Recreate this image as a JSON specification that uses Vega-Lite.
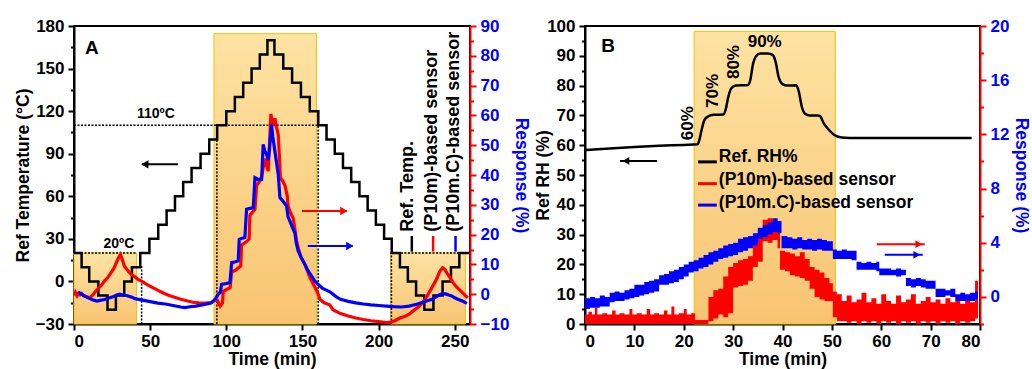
{
  "$schema": "https://vega.github.io/schema/vega-lite/v6.json",
  "padding": {"left": 13, "top": 16, "right": 2, "bottom": 0},
  "bounds": "flush",
  "spacing": 115,
  "config": {
    "font": "Liberation Sans",
    "view": {"stroke": "black", "strokeWidth": 2},
    "axis": {
      "labelFont": "Liberation Sans", "labelFontSize": 17, "labelFontWeight": "bold", "labelColor": "black",
      "titleFont": "Liberation Sans", "titleFontSize": 17.5, "titleFontWeight": "bold", "titleColor": "black",
      "grid": false, "domainColor": "black", "domainWidth": 2, "tickColor": "black", "tickWidth": 2,
      "labelPadding": 4, "titlePadding": 3
    },
    "axisX": {"labelPadding": 3, "titlePadding": 1.5},
    "text": {"font": "Liberation Sans", "fontWeight": "bold"}
  },
  "datasets": {
    "tempA": [{"t":0,"T":20},{"t":5,"T":10},{"t":10,"T":0},{"t":16,"T":-10},{"t":22,"T":-20},{"t":27.5,"T":-10},{"t":33,"T":0},{"t":38,"T":10},{"t":43.5,"T":20},{"t":49.5,"T":30},{"t":55.3,"T":40},{"t":60.8,"T":50},{"t":66.3,"T":60},{"t":71.7,"T":70},{"t":77.2,"T":80},{"t":83.1,"T":90},{"t":88.8,"T":100},{"t":94,"T":110},{"t":100,"T":120},{"t":105.6,"T":130},{"t":111.1,"T":140},{"t":116.6,"T":150},{"t":122,"T":160},{"t":127,"T":170},{"t":131.6,"T":160},{"t":137.4,"T":150},{"t":143.2,"T":140},{"t":149,"T":130},{"t":154.8,"T":120},{"t":160.4,"T":110},{"t":165.8,"T":100},{"t":171.2,"T":90},{"t":176.6,"T":80},{"t":182,"T":70},{"t":187.4,"T":60},{"t":192.8,"T":50},{"t":198.2,"T":40},{"t":203.6,"T":30},{"t":208.6,"T":20},{"t":214,"T":10},{"t":219.2,"T":0},{"t":224.6,"T":-10},{"t":230,"T":-20},{"t":236,"T":-10},{"t":242,"T":0},{"t":247.5,"T":10},{"t":253,"T":20},{"t":259.8,"T":20}],
    "redA": [{"t":0.5,"R":-0.5},{"t":1,"R":0.5},{"t":2,"R":-0.5},{"t":3,"R":0.3},{"t":4,"R":-0.2},{"t":5,"R":0.2},{"t":6,"R":-0.5},{"t":8,"R":-0.8},{"t":10,"R":-1.2},{"t":12,"R":-0.5},{"t":14,"R":0.8},{"t":16,"R":2.0},{"t":18,"R":3.0},{"t":20,"R":4.4},{"t":22,"R":5.5},{"t":24,"R":7.0},{"t":26,"R":8.5},{"t":28,"R":10.8},{"t":29.5,"R":12.5},{"t":30.5,"R":13.3},{"t":31.5,"R":12.0},{"t":33,"R":9.5},{"t":34.5,"R":8.5},{"t":36,"R":7.5},{"t":38,"R":6.5},{"t":40,"R":5.8},{"t":42,"R":5.0},{"t":45,"R":4.2},{"t":48,"R":3.2},{"t":51,"R":2.4},{"t":54,"R":1.6},{"t":57,"R":0.8},{"t":60,"R":0.1},{"t":63,"R":-0.5},{"t":66,"R":-1.0},{"t":70,"R":-1.7},{"t":74,"R":-2.2},{"t":78,"R":-2.7},{"t":82,"R":-2.9},{"t":86,"R":-3.0},{"t":90,"R":-2.8},{"t":92,"R":-2.2},{"t":93.5,"R":-1.5},{"t":94.5,"R":-2.5},{"t":96,"R":-4.0},{"t":97.5,"R":-3.0},{"t":98,"R":1.0},{"t":101,"R":1.8},{"t":102.5,"R":2.2},{"t":103.5,"R":7.5},{"t":106,"R":8.0},{"t":107.8,"R":8.8},{"t":109.5,"R":9.5},{"t":110,"R":16.5},{"t":113,"R":17.5},{"t":115,"R":18.5},{"t":115.5,"R":26.5},{"t":118.8,"R":28.5},{"t":119.9,"R":36.5},{"t":122,"R":38},{"t":123.2,"R":39.5},{"t":125.3,"R":45.5},{"t":126.5,"R":43},{"t":127.5,"R":41.3},{"t":128.5,"R":52},{"t":129.3,"R":60.5},{"t":130,"R":58},{"t":130.8,"R":56.5},{"t":131.9,"R":59},{"t":133,"R":56},{"t":134.1,"R":53.5},{"t":135,"R":45},{"t":135.5,"R":39},{"t":137,"R":38},{"t":138.5,"R":36.5},{"t":140,"R":33},{"t":140.6,"R":29.5},{"t":142,"R":27.5},{"t":143.9,"R":25.5},{"t":145,"R":22},{"t":146.1,"R":18},{"t":147.5,"R":15},{"t":149,"R":12.5},{"t":151.6,"R":10},{"t":153.5,"R":7.5},{"t":155,"R":5.5},{"t":157,"R":3.5},{"t":158.5,"R":2},{"t":160,"R":0.5},{"t":161.5,"R":-1.7},{"t":164,"R":-2.8},{"t":168,"R":-3.6},{"t":170,"R":-5.2},{"t":175,"R":-6.5},{"t":180,"R":-7.3},{"t":185,"R":-8},{"t":190,"R":-8.5},{"t":195,"R":-8.9},{"t":200,"R":-9.2},{"t":205,"R":-9.5},{"t":208,"R":-9.4},{"t":211,"R":-8.8},{"t":214,"R":-8.0},{"t":217,"R":-7.5},{"t":220,"R":-6.7},{"t":223,"R":-5.5},{"t":226,"R":-4.3},{"t":229,"R":-2.8},{"t":232,"R":-0.5},{"t":235,"R":2.2},{"t":238,"R":5},{"t":240,"R":7.5},{"t":242,"R":8.9},{"t":243.5,"R":8.3},{"t":245,"R":7.0},{"t":247,"R":5.5},{"t":249,"R":3.8},{"t":251,"R":2.5},{"t":253,"R":1.5},{"t":255,"R":0.5},{"t":257,"R":-0.5},{"t":258.5,"R":-1.2}],
    "blueA": [{"t":3,"R":0.8},{"t":4,"R":0.2},{"t":5,"R":0},{"t":7,"R":-0.6},{"t":10,"R":-1.4},{"t":13,"R":-2.0},{"t":15,"R":-2.3},{"t":18,"R":-2.0},{"t":20,"R":-1.8},{"t":23,"R":-1.3},{"t":26,"R":-0.8},{"t":28,"R":-0.3},{"t":30,"R":0.0},{"t":32,"R":-0.2},{"t":35,"R":-0.5},{"t":38,"R":-1.0},{"t":40,"R":-1.5},{"t":45,"R":-2.0},{"t":50,"R":-2.5},{"t":55,"R":-3.0},{"t":60,"R":-3.3},{"t":65,"R":-3.8},{"t":70,"R":-4.3},{"t":73,"R":-4.5},{"t":76,"R":-4.2},{"t":80,"R":-4.0},{"t":85,"R":-3.5},{"t":88,"R":-3.2},{"t":90,"R":-3.0},{"t":91.4,"R":-2.3},{"t":93,"R":-1.5},{"t":94.7,"R":0},{"t":96,"R":0.5},{"t":96.9,"R":3.3},{"t":100,"R":3.6},{"t":102.4,"R":3.9},{"t":103.5,"R":10.6},{"t":106,"R":10.9},{"t":107.8,"R":11.2},{"t":108.5,"R":18.4},{"t":110,"R":18.7},{"t":112.2,"R":19.0},{"t":113.3,"R":28.5},{"t":115.5,"R":28.8},{"t":117.7,"R":29},{"t":118.8,"R":39.1},{"t":121,"R":38.5},{"t":123.2,"R":38.5},{"t":124.2,"R":50.3},{"t":125.3,"R":48},{"t":126.4,"R":47},{"t":127.5,"R":45},{"t":128.2,"R":48},{"t":129.7,"R":57},{"t":130.5,"R":53},{"t":131.9,"R":48},{"t":133,"R":44},{"t":134.1,"R":40.2},{"t":135.2,"R":32.4},{"t":137.5,"R":31},{"t":139.6,"R":29.6},{"t":140.5,"R":26},{"t":141.7,"R":24.6},{"t":143.3,"R":22.5},{"t":145,"R":20.6},{"t":146,"R":17},{"t":147.2,"R":14.5},{"t":149,"R":12.5},{"t":151.6,"R":10},{"t":153.5,"R":8},{"t":156,"R":6.1},{"t":158,"R":4.5},{"t":160.3,"R":3.3},{"t":163,"R":2},{"t":166,"R":1.3},{"t":168,"R":0.8},{"t":172,"R":-0.8},{"t":175,"R":-1.7},{"t":180,"R":-2.4},{"t":185,"R":-2.9},{"t":190,"R":-3.3},{"t":195,"R":-3.6},{"t":200,"R":-3.8},{"t":205,"R":-4.0},{"t":210,"R":-4.2},{"t":215,"R":-4.3},{"t":220,"R":-4.0},{"t":225,"R":-3.4},{"t":230,"R":-2.5},{"t":235,"R":-1.7},{"t":238,"R":-0.8},{"t":240,"R":-0.2},{"t":242,"R":0.2},{"t":244,"R":0.1},{"t":246,"R":-0.3},{"t":248,"R":-0.6},{"t":250,"R":-1.2},{"t":252,"R":-1.7},{"t":255,"R":-2.3},{"t":258,"R":-3.1}],
    "boxA": [{"t":0,"t2":41.1,"T":-30,"T2":20},{"t":91.9,"t2":159.2,"T":-30,"T2":174.6},{"t":207.8,"t2":257,"T":-30,"T2":20}],
    "dotA": [{"t":0,"t2":160.3,"T":110,"T2":110},{"t":0,"t2":41.1,"T":20,"T2":20},{"t":207.8,"t2":257,"T":20,"T2":20},{"t":44.4,"t2":44.4,"T":-30,"T2":12},{"t":93.8,"t2":93.8,"T":-30,"T2":110},{"t":160.3,"t2":160.3,"T":-30,"T2":110},{"t":208.4,"t2":208.4,"T":-30,"T2":20}],
    "arrowA": [{"t":44.6,"t2":68.2,"T":82.5,"head":46.5,"dir":"left","series":"ref"},{"t":149.6,"t2":179.1,"T":49.6,"head":177.2,"dir":"right","series":"P10m"},{"t":153.5,"t2":183,"T":25,"head":181.1,"dir":"right","series":"P10m.C"}],
    "legDashA": [{"t":221.8,"T":21,"T2":32,"series":"ref"},{"t":235.8,"T":21,"T2":32,"series":"P10m"},{"t":250.5,"T":21,"T2":32,"series":"P10m.C"}],
    "legTextA": [{"t":219.5,"T":35,"label":"Ref. Temp."},{"t":234.9,"T":35,"label":"(P10m)-based sensor"},{"t":249.8,"T":35,"label":"(P10m.C)-based sensor"}],
    "rhB": [{"t":0,"RH":58.4},{"t":5,"RH":58.9},{"t":10,"RH":59.4},{"t":15,"RH":59.8},{"t":20,"RH":60.1},{"t":22.8,"RH":60.3},{"t":23.2,"RH":62},{"t":23.6,"RH":65},{"t":24.2,"RH":68.5},{"t":25,"RH":69.7},{"t":26,"RH":70.2},{"t":28,"RH":70.3},{"t":28.5,"RH":72},{"t":29,"RH":76},{"t":29.6,"RH":79},{"t":30.5,"RH":80},{"t":33,"RH":80.2},{"t":33.5,"RH":82},{"t":34,"RH":87},{"t":34.6,"RH":89.8},{"t":35.5,"RH":90.8},{"t":37,"RH":90.8},{"t":38,"RH":90.3},{"t":38.6,"RH":88},{"t":39.2,"RH":83},{"t":40,"RH":80.5},{"t":41,"RH":80},{"t":42.8,"RH":80.1},{"t":43.3,"RH":78},{"t":43.9,"RH":73},{"t":44.6,"RH":70.5},{"t":45.5,"RH":70},{"t":47,"RH":70},{"t":47.6,"RH":69.8},{"t":48.3,"RH":67.5},{"t":49.2,"RH":65.5},{"t":50.2,"RH":63.8},{"t":51,"RH":63},{"t":52,"RH":62.6},{"t":55,"RH":62.4},{"t":78.3,"RH":62.4}],
    "redB": [{"t":0,"R":-2,"R2":-1.3},{"t":0.7,"R":-2,"R2":-1.1},{"t":1.4,"R":-2,"R2":-1.3},{"t":2,"R":-2,"R2":-0.8},{"t":2.5,"R":-2,"R2":-1.3},{"t":3.5,"R":-2,"R2":-1.2},{"t":4.5,"R":-2,"R2":-1.3},{"t":5.5,"R":-2,"R2":-1.0},{"t":6.2,"R":-2,"R2":-1.3},{"t":7,"R":-2,"R2":-1.2},{"t":8,"R":-2,"R2":-1.3},{"t":9,"R":-2,"R2":-0.9},{"t":9.6,"R":-2,"R2":-1.3},{"t":10.5,"R":-2,"R2":-1.2},{"t":11.5,"R":-2,"R2":-1.3},{"t":12.5,"R":-2,"R2":-0.9},{"t":13.2,"R":-2,"R2":-1.3},{"t":14,"R":-2,"R2":-1.2},{"t":15,"R":-2,"R2":-1.3},{"t":16,"R":-2,"R2":-1.0},{"t":16.7,"R":-2,"R2":-1.3},{"t":17.5,"R":-2,"R2":-0.7},{"t":18.1,"R":-2,"R2":-1.3},{"t":19,"R":-2,"R2":-1.2},{"t":20,"R":-2,"R2":-0.9},{"t":20.6,"R":-2,"R2":-1.3},{"t":21.5,"R":-2,"R2":-1.2},{"t":22.3,"R":-2,"R2":-1.7},{"t":23.5,"R":-2,"R2":-1.7},{"t":25,"R":-1.8,"R2":0.0},{"t":26,"R":-1.6,"R2":0.5},{"t":27,"R":-1.3,"R2":0.6},{"t":28,"R":-1.5,"R2":1.5},{"t":29,"R":-1.2,"R2":2.2},{"t":30,"R":0.7,"R2":2.5},{"t":31,"R":0.8,"R2":2.7},{"t":32,"R":0.9,"R2":2.8},{"t":33,"R":1.2,"R2":3.0},{"t":34,"R":2.2,"R2":4.3},{"t":35,"R":2.6,"R2":4.9},{"t":36,"R":4.1,"R2":5.7},{"t":37,"R":4.0,"R2":5.8},{"t":38,"R":4.2,"R2":5.7},{"t":39,"R":3.6,"R2":5.5},{"t":39.5,"R":2.0,"R2":3.4},{"t":40.5,"R":1.9,"R2":3.3},{"t":41.5,"R":1.6,"R2":3.2},{"t":42.5,"R":1.5,"R2":3.0},{"t":43.5,"R":1.4,"R2":3.3},{"t":44.5,"R":1.2,"R2":2.8},{"t":45.5,"R":0.6,"R2":2.2},{"t":46.5,"R":0.0,"R2":2.0},{"t":47.5,"R":-0.2,"R2":1.8},{"t":48.5,"R":-0.3,"R2":1.4},{"t":49.5,"R":-0.3,"R2":1.0},{"t":50.2,"R":-1.5,"R2":0.4},{"t":51,"R":-1.8,"R2":0.2},{"t":52,"R":-1.8,"R2":-0.3},{"t":53,"R":-1.9,"R2":0.1},{"t":54,"R":-1.8,"R2":-0.4},{"t":55,"R":-2.0,"R2":-0.2},{"t":56,"R":-1.8,"R2":0.3},{"t":57,"R":-1.9,"R2":-0.4},{"t":58,"R":-1.8,"R2":-0.1},{"t":59,"R":-2.0,"R2":-0.5},{"t":60,"R":-1.8,"R2":0.2},{"t":61,"R":-1.9,"R2":-0.3},{"t":62,"R":-1.8,"R2":-0.5},{"t":63,"R":-2.0,"R2":0.1},{"t":64,"R":-1.8,"R2":-0.4},{"t":65,"R":-1.9,"R2":-0.2},{"t":66,"R":-1.8,"R2":0.2},{"t":67,"R":-2.0,"R2":-0.5},{"t":68,"R":-1.8,"R2":-0.3},{"t":69,"R":-1.9,"R2":0.0},{"t":70,"R":-1.8,"R2":-0.4},{"t":71,"R":-2.0,"R2":-0.2},{"t":72,"R":-1.8,"R2":-0.5},{"t":73,"R":-1.9,"R2":-0.1},{"t":74,"R":-1.8,"R2":-0.4},{"t":75,"R":-2.0,"R2":-0.3},{"t":76,"R":-1.8,"R2":-0.5},{"t":77,"R":-1.9,"R2":-0.2},{"t":78,"R":-1.8,"R2":-0.4},{"t":79,"R":-1.6,"R2":1.2},{"t":79.6,"R":-1.6,"R2":1.2}],
    "blueB": [{"t":0,"R":-0.9,"R2":-0.1},{"t":1,"R":-0.8,"R2":0.0},{"t":2,"R":-0.8,"R2":-0.1},{"t":3,"R":-0.7,"R2":0.1},{"t":4,"R":-0.7,"R2":0.0},{"t":5,"R":-0.4,"R2":0.3},{"t":6,"R":-0.3,"R2":0.4},{"t":7,"R":-0.3,"R2":0.3},{"t":8,"R":-0.2,"R2":0.5},{"t":9,"R":-0.1,"R2":0.6},{"t":10,"R":0.0,"R2":0.9},{"t":11,"R":0.1,"R2":0.9},{"t":12,"R":0.2,"R2":1.1},{"t":13,"R":0.3,"R2":1.2},{"t":14,"R":0.4,"R2":1.3},{"t":15,"R":0.9,"R2":1.6},{"t":16,"R":0.9,"R2":1.7},{"t":17,"R":1.0,"R2":1.9},{"t":18,"R":1.1,"R2":2.0},{"t":19,"R":1.3,"R2":2.2},{"t":20,"R":1.5,"R2":2.4},{"t":21,"R":1.8,"R2":2.6},{"t":22,"R":1.9,"R2":2.7},{"t":23,"R":2.1,"R2":2.9},{"t":24,"R":2.2,"R2":3.1},{"t":25,"R":2.4,"R2":3.3},{"t":26,"R":2.6,"R2":3.4},{"t":27,"R":2.8,"R2":3.6},{"t":28,"R":2.9,"R2":3.8},{"t":29,"R":3.0,"R2":3.9},{"t":30,"R":3.1,"R2":4.0},{"t":31,"R":3.3,"R2":4.3},{"t":32,"R":3.4,"R2":4.4},{"t":33,"R":3.6,"R2":4.5},{"t":34,"R":3.8,"R2":4.7},{"t":35,"R":4.3,"R2":5.1},{"t":36,"R":4.4,"R2":5.3},{"t":37,"R":4.6,"R2":5.5},{"t":38,"R":4.8,"R2":5.8},{"t":39,"R":4.7,"R2":5.6},{"t":39.8,"R":3.6,"R2":4.5},{"t":41,"R":3.6,"R2":4.4},{"t":42,"R":3.5,"R2":4.3},{"t":43,"R":3.6,"R2":4.4},{"t":44,"R":3.5,"R2":4.2},{"t":45,"R":3.5,"R2":4.3},{"t":46,"R":3.4,"R2":4.2},{"t":47,"R":3.5,"R2":4.3},{"t":48,"R":3.4,"R2":4.2},{"t":49,"R":3.4,"R2":4.1},{"t":50.2,"R":2.8,"R2":3.5},{"t":51,"R":2.8,"R2":3.4},{"t":52,"R":2.8,"R2":3.5},{"t":53,"R":2.8,"R2":3.4},{"t":54,"R":2.7,"R2":3.4},{"t":55,"R":2.0,"R2":2.6},{"t":56,"R":2.0,"R2":2.5},{"t":57,"R":2.0,"R2":2.6},{"t":58,"R":2.0,"R2":2.5},{"t":59,"R":1.9,"R2":2.6},{"t":59.6,"R":1.6,"R2":2.1},{"t":61,"R":1.6,"R2":2.1},{"t":62,"R":1.6,"R2":2.0},{"t":63,"R":1.5,"R2":2.1},{"t":64,"R":1.6,"R2":2.0},{"t":65,"R":0.8,"R2":1.4},{"t":66,"R":0.7,"R2":1.3},{"t":67,"R":0.8,"R2":1.4},{"t":68,"R":0.7,"R2":1.3},{"t":69,"R":0.6,"R2":1.2},{"t":70,"R":0.6,"R2":1.2},{"t":71,"R":0.0,"R2":0.6},{"t":72,"R":0.0,"R2":0.6},{"t":73,"R":0.1,"R2":0.5},{"t":74,"R":0.0,"R2":0.6},{"t":75,"R":-0.3,"R2":0.2},{"t":76,"R":-0.3,"R2":0.3},{"t":77,"R":-0.3,"R2":0.2},{"t":78,"R":-0.3,"R2":0.3},{"t":79,"R":-0.2,"R2":0.4},{"t":79.6,"R":-0.2,"R2":0.4}],
    "boxB": [{"t":22.1,"t2":50.7,"RH":0,"RH2":98.2}],
    "arrowB": [{"t":7.1,"t2":14.6,"RH":54.7,"head":8.3,"dir":"left","series":"ref"},{"t":59.1,"t2":68.8,"RH":26.8,"head":67.6,"dir":"right","series":"P10m"},{"t":60.7,"t2":68.4,"RH":23.2,"head":67.2,"dir":"right","series":"P10m.C"}],
    "legDashB": [{"t":22.9,"t2":26.7,"RH":54.4,"series":"ref"},{"t":22.9,"t2":26.7,"RH":47.1,"series":"P10m"},{"t":22.9,"t2":26.7,"RH":39.9,"series":"P10m.C"}],
    "legTextB": [{"t":27.1,"RH":56,"label":"Ref. RH%"},{"t":27.1,"RH":48.2,"label":"(P10m)-based sensor"},{"t":27.1,"RH":40.6,"label":"(P10m.C)-based sensor"}],
    "rotB": [{"t":20.9,"RH":67.4,"label":"60%"},{"t":25.9,"RH":78.2,"label":"70%"},{"t":30.2,"RH":87.9,"label":"80%"}]
  },
  "hconcat": [
    {
      "width": 396, "height": 298,
      "resolve": {"scale": {"y": "independent"}, "axis": {"y": "independent"}},
      "layer": [
        {
          "encoding": {
            "x": {"field": "t", "type": "quantitative", "scale": {"domain": [0, 260], "nice": false},
              "axis": {"title": "Time (min)", "values": [0,25,50,75,100,125,150,175,200,225,250],
                "labelExpr": "datum.value % 50 === 0 ? datum.label : ''",
                "tickSize": {"condition": {"test": "datum.value % 50 === 0", "value": 6}, "value": 3.5}}},
            "y": {"field": "T", "type": "quantitative", "scale": {"domain": [-30, 180], "nice": false},
              "axis": {"title": "Ref Temperature (°C)", "orient": "left", "values": [-30,-15,0,15,30,45,60,75,90,105,120,135,150,165,180],
                "labelExpr": "datum.value % 30 === 0 ? datum.label : ''",
                "tickSize": {"condition": {"test": "datum.value % 30 === 0", "value": 6}, "value": 3.5}}}
          },
          "layer": [
            {"data": {"name": "boxA"}, "mark": {"type": "rect", "stroke": "#F2C200", "strokeWidth": 1,
              "fill": {"gradient": "linear", "x1": 0, "y1": 0, "x2": 0, "y2": 1, "stops": [{"offset": 0, "color": "#FEE3A3"}, {"offset": 1, "color": "#F8C472"}]}},
              "encoding": {"x2": {"field": "t2"}, "y2": {"field": "T2"}}},
            {"data": {"name": "dotA"}, "mark": {"type": "rule", "color": "black", "strokeWidth": 1.5, "strokeDash": [2, 1.5]},
              "encoding": {"x2": {"field": "t2"}, "y2": {"field": "T2"}}},
            {"data": {"name": "tempA"}, "mark": {"type": "line", "color": "black", "strokeWidth": 2.5, "interpolate": "step-after"}},
            {"data": {"name": "arrowA"}, "mark": {"type": "rule", "strokeWidth": 2},
              "encoding": {"x2": {"field": "t2"}, "color": {"field": "series", "type": "nominal", "scale": {"domain": ["ref", "P10m", "P10m.C"], "range": ["black", "#FF0000", "#0000FF"]}, "legend": null}}},
            {"data": {"name": "arrowA"}, "mark": {"type": "point", "filled": true, "opacity": 1, "size": 70},
              "encoding": {"x": {"field": "head", "type": "quantitative"},
                "shape": {"field": "dir", "type": "nominal", "scale": {"domain": ["left", "right"], "range": ["triangle-left", "triangle-right"]}, "legend": null},
                "color": {"field": "series", "type": "nominal", "scale": {"domain": ["ref", "P10m", "P10m.C"], "range": ["black", "#FF0000", "#0000FF"]}, "legend": null}}},
            {"data": {"name": "legDashA"}, "mark": {"type": "rule", "strokeWidth": 2.5},
              "encoding": {"y2": {"field": "T2"}, "color": {"field": "series", "type": "nominal", "scale": {"domain": ["ref", "P10m", "P10m.C"], "range": ["black", "#FF0000", "#0000FF"]}, "legend": null}}},
            {"data": {"name": "legTextA"}, "mark": {"type": "text", "angle": 270, "align": "left", "baseline": "middle", "fontSize": 18, "color": "black"},
              "encoding": {"text": {"field": "label"}}},
            {"data": {"values": [{"t": 11.8, "T": 164.5, "label": "A"}]}, "mark": {"type": "text", "fontSize": 19, "color": "black", "baseline": "middle"},
              "encoding": {"text": {"field": "label"}}},
            {"data": {"values": [{"t": 53.8, "T": 118, "label": "110ºC"}, {"t": 29.5, "T": 26.4, "label": "20ºC"}]}, "mark": {"type": "text", "fontSize": 14, "color": "black", "baseline": "middle"},
              "encoding": {"text": {"field": "label"}}}
          ]
        },
        {
          "encoding": {
            "x": {"field": "t", "type": "quantitative", "scale": {"domain": [0, 260], "nice": false}},
            "y": {"field": "R", "type": "quantitative", "scale": {"domain": [-10, 90], "nice": false},
              "axis": {"title": "Response (%)", "orient": "right", "domainColor": "#FF0000", "tickColor": "#FF0000", "labelColor": "#0000FF", "titleColor": "#0000FF",
                "values": [-10,-5,0,5,10,15,20,25,30,35,40,45,50,55,60,65,70,75,80,85,90],
                "labelExpr": "datum.value % 10 === 0 ? datum.label : ''",
                "tickSize": {"condition": {"test": "datum.value % 10 === 0", "value": 6}, "value": 3.5}, "zindex": 2}}
          },
          "layer": [
            {"data": {"name": "redA"}, "mark": {"type": "line", "color": "#FF0000", "strokeWidth": 3.2}},
            {"data": {"name": "blueA"}, "mark": {"type": "line", "color": "#0000FF", "strokeWidth": 3.2}}
          ]
        }
      ]
    },
    {
      "width": 395, "height": 298,
      "resolve": {"scale": {"y": "independent"}, "axis": {"y": "independent"}},
      "layer": [
        {
          "encoding": {
            "x": {"field": "t", "type": "quantitative", "scale": {"domain": [0, 80], "nice": false},
              "axis": {"title": "Time (min)", "values": [0,5,10,15,20,25,30,35,40,45,50,55,60,65,70,75,80],
                "labelExpr": "datum.value % 10 === 0 ? datum.label : ''",
                "tickSize": {"condition": {"test": "datum.value % 10 === 0", "value": 6}, "value": 3.5}}},
            "y": {"field": "RH", "type": "quantitative", "scale": {"domain": [0, 100], "nice": false},
              "axis": {"title": "Ref RH (%)", "orient": "left", "values": [0,5,10,15,20,25,30,35,40,45,50,55,60,65,70,75,80,85,90,95,100],
                "labelExpr": "datum.value % 10 === 0 ? datum.label : ''", "titlePadding": -6,
                "tickSize": {"condition": {"test": "datum.value % 10 === 0", "value": 6}, "value": 3.5}}}
          },
          "layer": [
            {"data": {"name": "boxB"}, "mark": {"type": "rect", "stroke": "#F2C200", "strokeWidth": 1,
              "fill": {"gradient": "linear", "x1": 0, "y1": 0, "x2": 0, "y2": 1, "stops": [{"offset": 0, "color": "#FEE3A3"}, {"offset": 1, "color": "#F8C472"}]}},
              "encoding": {"x2": {"field": "t2"}, "y2": {"field": "RH2"}}},
            {"data": {"name": "rhB"}, "mark": {"type": "line", "color": "black", "strokeWidth": 2.5, "interpolate": "monotone"}},
            {"data": {"name": "arrowB"}, "mark": {"type": "rule", "strokeWidth": 2},
              "encoding": {"x2": {"field": "t2"}, "color": {"field": "series", "type": "nominal", "scale": {"domain": ["ref", "P10m", "P10m.C"], "range": ["black", "#FF0000", "#0000FF"]}, "legend": null}}},
            {"data": {"name": "arrowB"}, "mark": {"type": "point", "filled": true, "opacity": 1, "size": 60},
              "encoding": {"x": {"field": "head", "type": "quantitative"},
                "shape": {"field": "dir", "type": "nominal", "scale": {"domain": ["left", "right"], "range": ["triangle-left", "triangle-right"]}, "legend": null},
                "color": {"field": "series", "type": "nominal", "scale": {"domain": ["ref", "P10m", "P10m.C"], "range": ["black", "#FF0000", "#0000FF"]}, "legend": null}}},
            {"data": {"name": "legDashB"}, "mark": {"type": "rule", "strokeWidth": 3},
              "encoding": {"x2": {"field": "t2"}, "color": {"field": "series", "type": "nominal", "scale": {"domain": ["ref", "P10m", "P10m.C"], "range": ["black", "#FF0000", "#0000FF"]}, "legend": null}}},
            {"data": {"name": "legTextB"}, "mark": {"type": "text", "align": "left", "baseline": "middle", "fontSize": 17.5, "color": "black"},
              "encoding": {"text": {"field": "label"}}},
            {"data": {"name": "rotB"}, "mark": {"type": "text", "angle": 270, "align": "center", "baseline": "middle", "fontSize": 17, "color": "black"},
              "encoding": {"text": {"field": "label"}}},
            {"data": {"values": [{"t": 36.4, "RH": 94.6, "label": "90%"}]}, "mark": {"type": "text", "fontSize": 17, "color": "black", "baseline": "middle"},
              "encoding": {"text": {"field": "label"}}},
            {"data": {"values": [{"t": 4.7, "RH": 93.3, "label": "B"}]}, "mark": {"type": "text", "fontSize": 19, "color": "black", "baseline": "middle"},
              "encoding": {"text": {"field": "label"}}}
          ]
        },
        {
          "encoding": {
            "x": {"field": "t", "type": "quantitative", "scale": {"domain": [0, 80], "nice": false}},
            "y": {"field": "R", "type": "quantitative", "scale": {"domain": [-2, 20], "nice": false},
              "axis": {"title": "Response (%)", "orient": "right", "domainColor": "#FF0000", "tickColor": "#FF0000", "labelColor": "#0000FF", "titleColor": "#0000FF",
                "values": [-2,0,2,4,6,8,10,12,14,16,18,20],
                "labelExpr": "datum.value % 4 === 0 ? datum.label : ''",
                "tickSize": {"condition": {"test": "datum.value % 4 === 0", "value": 6}, "value": 3.5}, "zindex": 2}}
          },
          "layer": [
            {"data": {"name": "redB"}, "mark": {"type": "area", "color": "#FF0000", "interpolate": "step-after", "opacity": 1},
              "encoding": {"y2": {"field": "R2"}}},
            {"data": {"name": "blueB"}, "mark": {"type": "area", "color": "#0000FF", "interpolate": "step-after", "opacity": 1},
              "encoding": {"y2": {"field": "R2"}}}
          ]
        }
      ]
    }
  ]
}
